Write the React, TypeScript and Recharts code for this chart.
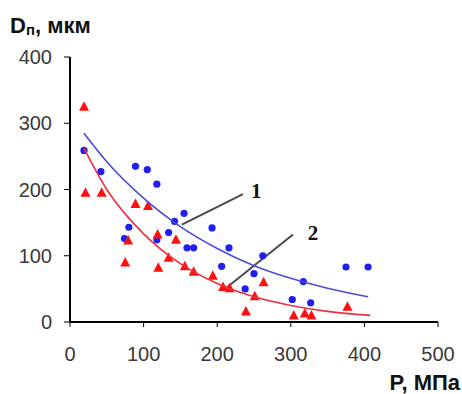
import { ScatterChart, Scatter, XAxis, YAxis, ReferenceLine, ReferenceDot } from 'recharts'

const xTicks = [0, 100, 200, 300, 400, 500]
const yTicks = [0, 100, 200, 300, 400]

// series 1 – blue dots
const bluePoints = [
  { x: 19, y: 259 }, { x: 42, y: 227 }, { x: 74, y: 126 }, { x: 80, y: 143 },
  { x: 89, y: 235 }, { x: 105, y: 230 }, { x: 118, y: 208 }, { x: 118, y: 124 },
  { x: 134, y: 135 }, { x: 142, y: 152 }, { x: 155, y: 164 }, { x: 159, y: 112 },
  { x: 168, y: 112 }, { x: 193, y: 142 }, { x: 206, y: 84 }, { x: 216, y: 112 },
  { x: 238, y: 50 }, { x: 250, y: 73 }, { x: 262, y: 100 }, { x: 302, y: 34 },
  { x: 317, y: 61 }, { x: 327, y: 29 }, { x: 375, y: 83 }, { x: 405, y: 83 },
]

// series 2 – red triangles
const redPoints = [
  { x: 19, y: 325 }, { x: 21, y: 195 }, { x: 43, y: 195 }, { x: 75, y: 90 },
  { x: 79, y: 123 }, { x: 89, y: 178 }, { x: 106, y: 175 }, { x: 119, y: 132 },
  { x: 120, y: 82 }, { x: 134, y: 97 }, { x: 144, y: 124 }, { x: 156, y: 84 },
  { x: 168, y: 76 }, { x: 194, y: 70 }, { x: 208, y: 53 }, { x: 217, y: 51 },
  { x: 239, y: 16 }, { x: 251, y: 39 }, { x: 263, y: 60 }, { x: 304, y: 10 },
  { x: 319, y: 13 }, { x: 328, y: 10 }, { x: 377, y: 23 },
]

// trend curves
const blueTrend = [
  { x: 19, y: 285 }, { x: 50, y: 242 }, { x: 100, y: 187 }, { x: 150, y: 144 },
  { x: 200, y: 111 }, { x: 250, y: 85 }, { x: 300, y: 66 }, { x: 350, y: 51 },
  { x: 405, y: 38 },
]
const redTrend = [
  { x: 19, y: 262 }, { x: 50, y: 200 }, { x: 100, y: 133 }, { x: 150, y: 88 },
  { x: 200, y: 58 }, { x: 250, y: 38 }, { x: 300, y: 25 }, { x: 350, y: 16 },
  { x: 408, y: 10 },
]

const callouts = [
  { label: '1', from: { x: 152, y: 147 }, to: { x: 235, y: 193 }, at: { x: 253, y: 199 } },
  { label: '2', from: { x: 213, y: 52 }, to: { x: 303, y: 132 }, at: { x: 330, y: 135 } },
]

const tickStyle = { fill: '#3a3a3a', fontSize: 20, fontFamily: '"Liberation Sans", Arial, sans-serif' }

const Dot = (p: any) => <circle cx={p.cx} cy={p.cy} r={3.6} fill="#1f1fef" />
const Tri = (p: any) => (
  <polygon
    points={`${p.cx},${p.cy - 5.5} ${p.cx + 5},${p.cy + 4} ${p.cx - 5},${p.cy + 4}`}
    fill="#ff1010"
  />
)
const Nothing = () => <g />

const titleStyle = {
  position: 'absolute' as const,
  fontFamily: '"Liberation Sans", Arial, sans-serif',
  fontWeight: 700,
  fontSize: 22,
  lineHeight: 1,
  color: '#111',
  whiteSpace: 'nowrap' as const,
}

export default function App() {
  return (
    <div style={{ position: 'absolute', left: 0, top: 0, width: 462, height: 394, background: '#fff' }}>
      <ScatterChart width={462} height={394} margin={{ top: 57, right: 24, bottom: 0, left: 0 }}>
        <XAxis
          type="number"
          dataKey="x"
          domain={[0, 500]}
          ticks={xTicks}
          height={72}
          tickSize={5}
          tickMargin={20}
          tick={tickStyle}
          axisLine={{ stroke: '#000', strokeWidth: 2 }}
          tickLine={{ stroke: '#000' }}
        />
        <YAxis
          type="number"
          dataKey="y"
          domain={[0, 400]}
          ticks={yTicks}
          width={70}
          tickSize={6}
          tickMargin={12}
          tick={tickStyle}
          axisLine={{ stroke: '#000', strokeWidth: 2 }}
          tickLine={{ stroke: '#000' }}
        />
        <Scatter data={bluePoints} shape={Dot} isAnimationActive={false} />
        <Scatter data={redPoints} shape={Tri} isAnimationActive={false} />
        <Scatter
          data={blueTrend}
          shape={Nothing}
          line={{ stroke: '#4b4bd8', strokeWidth: 1.6 }}
          lineJointType="monotoneX"
          isAnimationActive={false}
        />
        <Scatter
          data={redTrend}
          shape={Nothing}
          line={{ stroke: '#ec3040', strokeWidth: 1.6 }}
          lineJointType="monotoneX"
          isAnimationActive={false}
        />
        {callouts.map(c => (
          <ReferenceLine
            key={'l' + c.label}
            segment={[c.from, c.to]}
            stroke="#4a4a4a"
            strokeWidth={2}
          />
        ))}
        {callouts.map(c => (
          <ReferenceDot
            key={'t' + c.label}
            x={c.at.x}
            y={c.at.y}
            r={0}
            fill="none"
            stroke="none"
            label={{
              value: c.label,
              position: 'center',
              fill: '#111',
              fontSize: 21,
              fontWeight: 700,
              fontFamily: '"Liberation Serif", "Times New Roman", serif',
            }}
          />
        ))}
      </ScatterChart>
      <div style={{ ...titleStyle, left: 10, top: 15 }}>
        D<span style={{ fontSize: 15, position: 'relative', top: 2 }}>п</span>, мкм
      </div>
      <div style={{ ...titleStyle, right: 2, top: 372 }}>P, МПа</div>
    </div>
  )
}
